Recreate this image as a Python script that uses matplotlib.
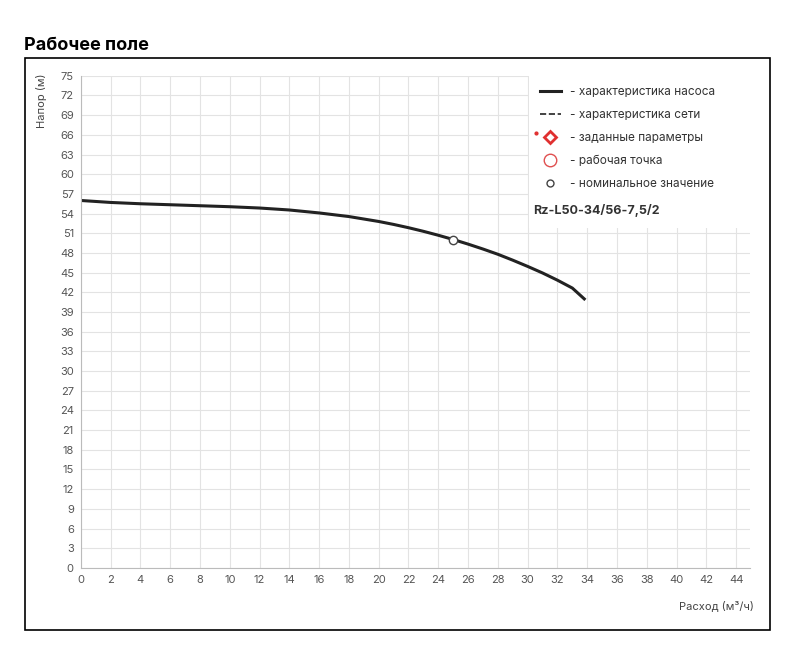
import matplotlib.pyplot as plt
from matplotlib.patches import Rectangle
from matplotlib.lines import Line2D

plt.rcParams['font.family'] = ['Inter', 'DejaVu Sans']

# pump curve
flow = [0, 2, 4, 6, 8, 10, 12, 14, 16, 18, 20, 21, 22, 23, 24, 25, 26, 27, 28, 29, 30, 31, 32, 33, 33.8]
head = [56.0, 55.7, 55.5, 55.35, 55.2, 55.05, 54.85, 54.55, 54.1, 53.55, 52.8, 52.35, 51.85, 51.3,
        50.7, 50.05, 49.35, 48.6, 47.8, 46.9, 45.95, 44.95, 43.85, 42.65, 41.0]
nominal_q, nominal_h = 25, 50.0
model = "Rz-L50-34/56-7,5/2"

fig = plt.figure(figsize=(8, 6.65), dpi=100)
fig.text(0.03, 0.925, "Рабочее поле", fontsize=13, fontweight='bold')
fig.patches.append(Rectangle((0.031, 0.053), 0.932, 0.86, transform=fig.transFigure,
                             fill=False, edgecolor='black', lw=1.2))

ax = fig.add_axes([0.101, 0.146, 0.836, 0.74])
ax.plot(flow, head, color='#222222', lw=2.2)
ax.plot(nominal_q, nominal_h, 'o', mfc='white', mec='#444444', ms=6, mew=1)
ax.set_xlim(0, 44.9)
ax.set_ylim(0, 75)
ax.set_xticks(range(0, 45, 2))
ax.set_yticks(range(0, 76, 3))
ax.grid(color='#e3e3e3', lw=0.8)
ax.set_axisbelow(True)
ax.tick_params(length=0, labelsize=8, colors='#555555', pad=5)
for s in ['top', 'right']:
    ax.spines[s].set_visible(False)
for s in ['left', 'bottom']:
    ax.spines[s].set_color('#bbbbbb')
ax.set_ylabel("Напор (м)", fontsize=8, color='#444444')
ax.yaxis.set_label_coords(-0.05, 0.95)
ax.set_xlabel("Расход (м³/ч)", fontsize=8, color='#444444')
ax.xaxis.set_label_coords(0.95, -0.065)

# legend block
ax.add_patch(Rectangle((0.67, 0.69), 0.34, 0.32, transform=ax.transAxes,
                       facecolor='white', edgecolor='none', zorder=3))
items = [
    (Line2D([], [], color='#222222', lw=2.2), "- характеристика насоса"),
    (Line2D([], [], color='#222222', lw=1.2, ls='--'), "- характеристика сети"),
    (Line2D([], [], marker='D', ls='', mfc='white', mec='#e03030', mew=2, ms=6), "- заданные параметры"),
    (Line2D([], [], marker='o', ls='', mfc='white', mec='#e05050', mew=1, ms=9), "- рабочая точка"),
    (Line2D([], [], marker='o', ls='', mfc='white', mec='#444444', mew=1, ms=5), "- номинальное значение"),
]
leg = ax.legend([h for h, _ in items], [t for _, t in items], loc='upper left',
                bbox_to_anchor=(0.67, 1.0), frameon=False, fontsize=8.5,
                labelspacing=0.92, handlelength=1.8, labelcolor='#333333')
leg.set_zorder(4)
ax.add_line(Line2D([nominal_q * 0 + 0.681], [0.883], transform=ax.transAxes, marker='o',
                   ms=2, color='#e03030', zorder=5))
ax.text(0.677, 0.72, model, transform=ax.transAxes, fontsize=9, fontweight='bold',
        color='#333333', zorder=5)

fig.savefig("out.png")
